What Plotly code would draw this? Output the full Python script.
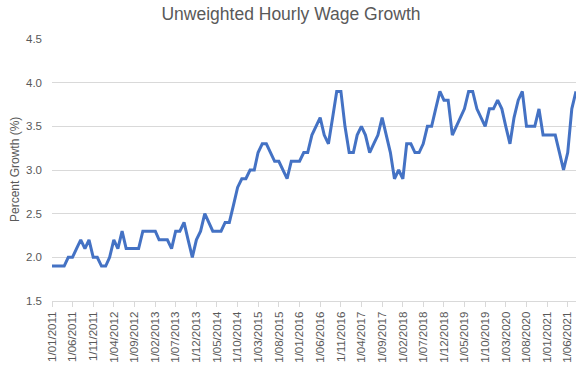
import plotly.graph_objects as go
import pandas as pd

start_month = "2011-01-01"
growth = [
    1.9, 1.9, 1.9, 1.9, 2.0, 2.0, 2.1, 2.2, 2.1, 2.2, 2.0, 2.0,
    1.9, 1.9, 2.0, 2.2, 2.1, 2.3, 2.1, 2.1, 2.1, 2.1, 2.3, 2.3,
    2.3, 2.3, 2.2, 2.2, 2.2, 2.1, 2.3, 2.3, 2.4, 2.2, 2.0, 2.2,
    2.3, 2.5, 2.4, 2.3, 2.3, 2.3, 2.4, 2.4, 2.6, 2.8, 2.9, 2.9,
    3.0, 3.0, 3.2, 3.3, 3.3, 3.2, 3.1, 3.1, 3.0, 2.9, 3.1, 3.1,
    3.1, 3.2, 3.2, 3.4, 3.5, 3.6, 3.4, 3.3, 3.6, 3.9, 3.9, 3.5,
    3.2, 3.2, 3.4, 3.5, 3.4, 3.2, 3.3, 3.4, 3.6, 3.4, 3.2, 2.9,
    3.0, 2.9, 3.3, 3.3, 3.2, 3.2, 3.3, 3.5, 3.5, 3.7, 3.9, 3.8,
    3.8, 3.4, 3.5, 3.6, 3.7, 3.9, 3.9, 3.7, 3.6, 3.5, 3.7, 3.7,
    3.8, 3.7, 3.5, 3.3, 3.6, 3.8, 3.9, 3.5, 3.5, 3.5, 3.7, 3.4,
    3.4, 3.4, 3.4, 3.2, 3.0, 3.2, 3.7, 3.9,
]
dates = pd.date_range(start_month, periods=len(growth), freq="MS")

title_text = "Unweighted Hourly Wage Growth"
y_title = "Percent Growth (%)"

grey = "#595959"
grid = "#d9d9d9"

W, H = 586, 371
L, R, T, B = 52, 10, 39, 70

fig = go.Figure()
fig.add_trace(go.Scatter(
    x=dates, y=growth, mode="lines",
    line=dict(color="#4472C4", width=3),
    showlegend=False, cliponaxis=False,
))

fig.update_layout(
    width=W, height=H,
    margin=dict(l=L, r=R, t=T, b=B, autoexpand=False),
    paper_bgcolor="white", plot_bgcolor="white",
    font=dict(family="Liberation Sans, Arial, sans-serif", size=12, color=grey),
    title=dict(text=title_text, x=291 / W, xanchor="center", xref="container",
               y=1 - 14 / H, yanchor="middle", yref="container",
               font=dict(size=17.5, color=grey)),
)
fig.add_annotation(
    text=y_title, textangle=-90, showarrow=False,
    xref="paper", yref="paper", x=(15 - L) / (W - L - R), y=0.5,
    xanchor="center", yanchor="middle",
    font=dict(size=12, color=grey),
)
fig.update_xaxes(
    range=[dates[0], dates[-1]], automargin=False,
    tick0=start_month, dtick="M5", tickformat="%-d/%m/%Y",
    tickangle=-90, tickfont=dict(size=11.5, color=grey),
    showgrid=False, showline=True, linecolor=grid, linewidth=1,
    ticks="outside", ticklen=5, tickcolor=grid,
)
fig.update_yaxes(
    range=[1.5, 4.5], dtick=0.5, tick0=1.5, tickformat=".1f", automargin=False,
    showgrid=True, gridcolor=grid, gridwidth=1, zeroline=False,
    showline=False, tickfont=dict(size=11.5, color=grey), ticklabelstandoff=9,
)

fig.write_html(
    "out.html",
    config={"displayModeBar": False},
    post_script="document.body.style.margin='0';document.body.style.padding='0';",
)
